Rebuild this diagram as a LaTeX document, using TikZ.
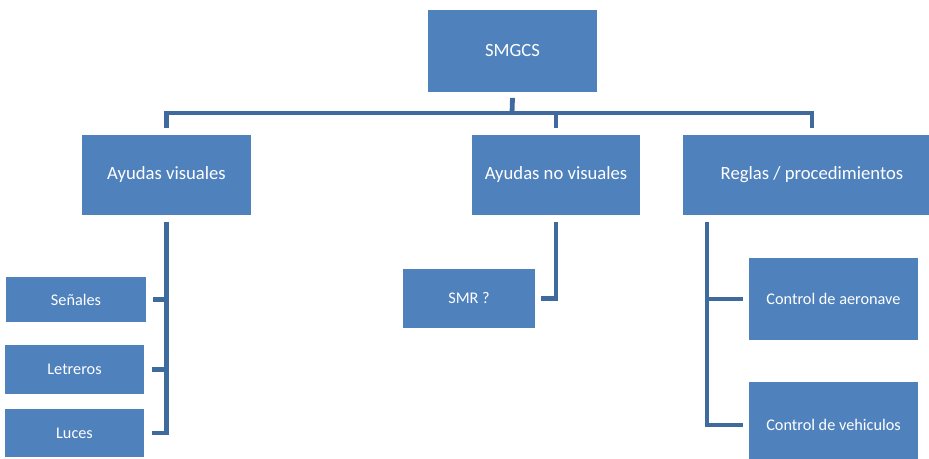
\documentclass[tikz,border=0pt]{standalone}
\usepackage{fontspec}
\setmainfont{Carlito}
\definecolor{boxblue}{HTML}{4F81BD}
\definecolor{lineblue}{HTML}{3F6A9E}
\tikzset{
  blk/.style={fill=boxblue, text=white, inner sep=0pt, font=\fontsize{14}{16}\selectfont},
  smallblk/.style={blk, font=\fontsize{12.2}{14}\selectfont},
  conn/.style={draw=lineblue, line width=3.6pt}
}
\begin{document}
\begin{tikzpicture}[x=0.75pt, y=-0.75pt]
\useasboundingbox (0,0) rectangle (929,459);
% boxes
\node[blk, minimum width=127pt, minimum height=62pt] (smgcs) at (512.5,51) {SMGCS};
\node[blk, minimum width=127pt, minimum height=60pt] (ayv) at (166.5,175) {Ayudas visuales};
\node[blk, minimum width=126pt, minimum height=60pt] (ayn) at (556,175) {Ayudas no visuales};
\node[blk, minimum width=193.5pt, minimum height=60pt] (reg) at (812,175) {Reglas / procedimientos};
\node[smallblk, minimum width=105pt, minimum height=34pt] (sen) at (76,299.5) {Señales};
\node[smallblk, minimum width=104pt, minimum height=37pt] (let) at (74.5,369.5) {Letreros};
\node[smallblk, minimum width=104pt, minimum height=36pt] (luc) at (74.5,433) {Luces};
\node[smallblk, minimum width=99pt, minimum height=44pt] (smr) at (469,298.5) {SMR ?};
\node[smallblk, minimum width=127pt, minimum height=62pt] (ca) at (833.5,299) {Control de aeronave};
\node[smallblk, minimum width=127pt, minimum height=64pt] (cv) at (833.5,425) {Control de vehiculos};
% top connector
\coordinate (bar) at (512,113);
\draw[conn] ([yshift=-4pt]smgcs.south) -- (bar);
\draw[conn] ([yshift=5pt]ayv.north) |- (bar) -| ([yshift=5pt]ayn.north);
\draw[conn] (bar) -| ([yshift=5pt]reg.north);
% left tree
\draw[conn] ([yshift=-5pt]ayv.south) |- ([xshift=6pt]luc.east);
\draw[conn] ([xshift=5pt]sen.east) -- (ayv.south |- sen.east);
\draw[conn] ([xshift=6pt]let.east) -- (ayv.south |- let.east);
% middle tree
\draw[conn] ([yshift=-5pt]ayn.south) |- ([xshift=4pt]smr.east);
% right tree
\coordinate (rtop) at (707,222);
\draw[conn] (rtop) |- ([xshift=-4pt]cv.west);
\draw[conn] ([xshift=-4pt]ca.west) -- (rtop |- ca.west);
\end{tikzpicture}
\end{document}
